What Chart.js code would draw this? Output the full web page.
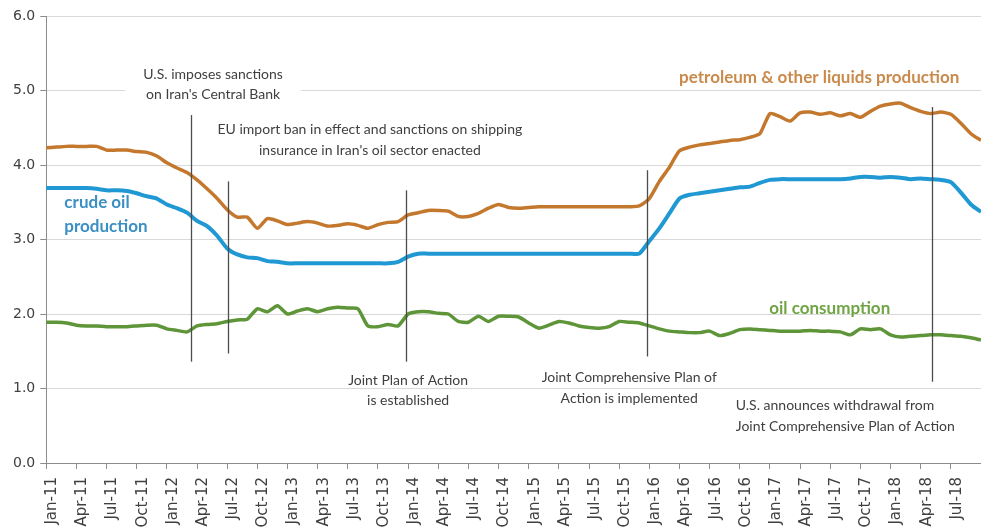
<!DOCTYPE html>
<html>
<head>
<meta charset="utf-8">
<title>Iran oil production and consumption</title>
<script src="https://cdn.jsdelivr.net/npm/chart.js@4.4.0/dist/chart.umd.min.js"></script>
<style>
  html, body { margin: 0; padding: 0; background: #fff; }
  #wrap { width: 981px; height: 531px; position: relative; }
</style>
</head>
<body>
<div id="wrap"><canvas id="iranChart"></canvas></div>
<script>
// months, Jan-11 .. Oct-18
const months = [
  'Jan-11','Feb-11','Mar-11','Apr-11','May-11','Jun-11','Jul-11','Aug-11','Sep-11','Oct-11','Nov-11','Dec-11',
  'Jan-12','Feb-12','Mar-12','Apr-12','May-12','Jun-12','Jul-12','Aug-12','Sep-12','Oct-12','Nov-12','Dec-12',
  'Jan-13','Feb-13','Mar-13','Apr-13','May-13','Jun-13','Jul-13','Aug-13','Sep-13','Oct-13','Nov-13','Dec-13',
  'Jan-14','Feb-14','Mar-14','Apr-14','May-14','Jun-14','Jul-14','Aug-14','Sep-14','Oct-14','Nov-14','Dec-14',
  'Jan-15','Feb-15','Mar-15','Apr-15','May-15','Jun-15','Jul-15','Aug-15','Sep-15','Oct-15','Nov-15','Dec-15',
  'Jan-16','Feb-16','Mar-16','Apr-16','May-16','Jun-16','Jul-16','Aug-16','Sep-16','Oct-16','Nov-16','Dec-16',
  'Jan-17','Feb-17','Mar-17','Apr-17','May-17','Jun-17','Jul-17','Aug-17','Sep-17','Oct-17','Nov-17','Dec-17',
  'Jan-18','Feb-18','Mar-18','Apr-18','May-18','Jun-18','Jul-18','Aug-18','Sep-18','Oct-18'
];

// million barrels per day
const petroleum = [
  4.23, 4.24, 4.25, 4.25, 4.25, 4.25, 4.20, 4.20, 4.20, 4.18, 4.17, 4.12,
  4.03, 3.96, 3.90, 3.80, 3.68, 3.55, 3.40, 3.30, 3.30, 3.15, 3.28, 3.25,
  3.20, 3.22, 3.24, 3.22, 3.18, 3.19, 3.21, 3.19, 3.15, 3.20, 3.23, 3.24,
  3.33, 3.36, 3.39, 3.39, 3.38, 3.31, 3.31, 3.35, 3.42, 3.47, 3.43, 3.42,
  3.43, 3.44, 3.44, 3.44, 3.44, 3.44, 3.44, 3.44, 3.44, 3.44, 3.44, 3.45,
  3.55, 3.78, 3.97, 4.19, 4.24, 4.27, 4.29, 4.31, 4.33, 4.34, 4.37, 4.42,
  4.69, 4.65, 4.59, 4.70, 4.71, 4.68, 4.70, 4.66, 4.69, 4.64, 4.72, 4.79,
  4.82, 4.83, 4.77, 4.72, 4.69, 4.71, 4.68, 4.56, 4.42, 4.33
];
const crude = [
  3.69, 3.69, 3.69, 3.69, 3.69, 3.68, 3.66, 3.66, 3.65, 3.62, 3.58, 3.55,
  3.47, 3.42, 3.36, 3.25, 3.18, 3.05, 2.88, 2.80, 2.76, 2.75, 2.71, 2.70,
  2.68, 2.68, 2.68, 2.68, 2.68, 2.68, 2.68, 2.68, 2.68, 2.68, 2.68, 2.70,
  2.77, 2.81, 2.81, 2.81, 2.81, 2.81, 2.81, 2.81, 2.81, 2.81, 2.81, 2.81,
  2.81, 2.81, 2.81, 2.81, 2.81, 2.81, 2.81, 2.81, 2.81, 2.81, 2.81, 2.81,
  2.98, 3.15, 3.35, 3.55, 3.60, 3.62, 3.64, 3.66, 3.68, 3.70, 3.71, 3.76,
  3.80, 3.81, 3.81, 3.81, 3.81, 3.81, 3.81, 3.81, 3.82, 3.84, 3.84, 3.83,
  3.84, 3.83, 3.81, 3.82, 3.81, 3.80, 3.77, 3.63, 3.47, 3.37
];
const consumption = [
  1.89, 1.89, 1.88, 1.85, 1.84, 1.84, 1.83, 1.83, 1.83, 1.84, 1.85, 1.85,
  1.80, 1.78, 1.76, 1.84, 1.86, 1.87, 1.90, 1.92, 1.93, 2.07, 2.03, 2.11,
  2.00, 2.04, 2.07, 2.03, 2.07, 2.09, 2.08, 2.07, 1.84, 1.83, 1.86, 1.84,
  2.00, 2.03, 2.03, 2.01, 2.00, 1.90, 1.89, 1.97, 1.90, 1.97, 1.97, 1.96,
  1.88, 1.81, 1.85, 1.90, 1.88, 1.84, 1.82, 1.81, 1.83, 1.90, 1.89, 1.88,
  1.84, 1.80, 1.77, 1.76, 1.75, 1.75, 1.77, 1.71, 1.74, 1.79, 1.80, 1.79,
  1.78, 1.77, 1.77, 1.77, 1.78, 1.77, 1.77, 1.76, 1.72, 1.80, 1.79, 1.80,
  1.72, 1.69, 1.70, 1.71, 1.72, 1.72, 1.71, 1.70, 1.68, 1.65
];

// event markers: month index where the line sits, line span in y units, caption
const events = [
  { at: 14.37, from: 1.36, to: 4.67, lines: ['U.S. imposes sanctions', "on Iran's Central Bank"], tx: 16.6, ty: [5.21, 4.94], align: 'center', mask: true },
  { at: 18.1, from: 1.47, to: 3.78, lines: ['EU import ban in effect and sanctions on shipping', "insurance in Iran's oil sector enacted"], tx: 32.2, ty: [4.48, 4.19], align: 'center' },
  { at: 35.75, from: 1.36, to: 3.66, lines: ['Joint Plan of Action', 'is established'], tx: 36.0, ty: [1.11, 0.84], align: 'center' },
  { at: 59.8, from: 1.43, to: 3.93, lines: ['Joint Comprehensive Plan of', 'Action is implemented'], tx: 58.0, ty: [1.15, 0.87], align: 'center' },
  { at: 88.1, from: 1.09, to: 4.78, lines: ['U.S. announces withdrawal from', 'Joint Comprehensive Plan of Action'], tx: 68.6, ty: [0.77, 0.49], align: 'left' }
];

// series captions written inside the plot
const seriesNotes = [
  { lines: ['crude oil', 'production'], tx: 1.8, ty: [3.49, 3.17], align: 'left', color: '#3a8fc3' },
  { lines: ['petroleum & other liquids production'], tx: 76.9, ty: [5.18], align: 'center', color: '#c98a4b' },
  { lines: ['oil consumption'], tx: 77.95, ty: [2.08], align: 'center', color: '#6fa443' }
];

const noteFont = '14px Lato, "Liberation Sans", sans-serif';
const seriesFont = 'bold 17px Lato, "Liberation Sans", sans-serif';

const annotate = {
  id: 'annotate',
  beforeDatasetsDraw(chart) {
    const { ctx, scales: { x, y } } = chart;
    ctx.save();
    ctx.font = noteFont;
    events.filter(e => e.mask).forEach(e => {
      const cx = x.getPixelForValue(e.tx);
      const w = Math.max(...e.lines.map(l => ctx.measureText(l).width)) + 36;
      const top = y.getPixelForValue(e.ty[0]) - 12;
      const bot = y.getPixelForValue(e.ty[e.ty.length - 1]) + 12;
      ctx.fillStyle = '#fff';
      ctx.fillRect(cx - w / 2, top, w, bot - top);
    });
    ctx.restore();
  },
  afterDatasetsDraw(chart) {
    const { ctx, scales: { x, y } } = chart;
    ctx.save();
    // vertical event lines
    ctx.strokeStyle = '#4d4d4d';
    ctx.lineWidth = 1.3;
    events.forEach(e => {
      const px = Math.round(x.getPixelForValue(e.at)) + 0.5;
      ctx.beginPath();
      ctx.moveTo(px, y.getPixelForValue(e.to));
      ctx.lineTo(px, y.getPixelForValue(e.from));
      ctx.stroke();
    });
    // captions
    ctx.textBaseline = 'middle';
    ctx.font = noteFont;
    ctx.fillStyle = '#404040';
    events.forEach(e => {
      ctx.textAlign = e.align;
      e.lines.forEach((l, i) => ctx.fillText(l, x.getPixelForValue(e.tx), y.getPixelForValue(e.ty[i])));
    });
    ctx.font = seriesFont;
    seriesNotes.forEach(n => {
      ctx.fillStyle = n.color;
      ctx.textAlign = n.align;
      n.lines.forEach((l, i) => ctx.fillText(l, x.getPixelForValue(n.tx), y.getPixelForValue(n.ty[i])));
    });
    ctx.restore();
  }
};

const line = (data, color, width) => ({
  data: data,
  borderColor: color,
  borderWidth: width,
  pointRadius: 0,
  tension: 0.2,
  fill: false
});

new Chart(document.getElementById('iranChart'), {
  type: 'line',
  data: {
    labels: months,
    datasets: [
      line(petroleum, '#c4782e', 3.5),
      line(crude, '#1f98d3', 4),
      line(consumption, '#5e9538', 3.5)
    ]
  },
  options: {
    responsive: true,
    maintainAspectRatio: false,
    animation: false,
    layout: { padding: { top: 16, right: 0, left: 8, bottom: 0 } },
    plugins: {
      legend: { display: false },
      tooltip: { enabled: false }
    },
    scales: {
      x: {
        offset: false,
        border: { color: '#8c8c8c' },
        grid: { drawOnChartArea: false, drawTicks: true, tickLength: 6, color: '#8c8c8c' },
        ticks: {
          autoSkip: false,
          maxRotation: 90,
          minRotation: 90,
          padding: 8,
          labelOffset: 6,
          color: '#404040',
          font: { family: '"DejaVu Sans", sans-serif', size: 15 },
          callback: (v, i) => i % 3 === 0 ? (i === months.length - 1 ? '' : months[i]) : null
        },
        afterFit: s => { s.height = 68; s.paddingRight = 0; s.paddingLeft = 0; }
      },
      y: {
        min: 0,
        max: 6,
        border: { color: '#8c8c8c' },
        grid: { color: '#d9d9d9', tickLength: 6, tickColor: '#8c8c8c' },
        ticks: {
          stepSize: 1,
          padding: 5,
          color: '#404040',
          font: { family: '"DejaVu Sans", sans-serif', size: 14 },
          callback: v => v.toFixed(1)
        }
      }
    }
  },
  plugins: [annotate]
});
</script>
</body>
</html>
